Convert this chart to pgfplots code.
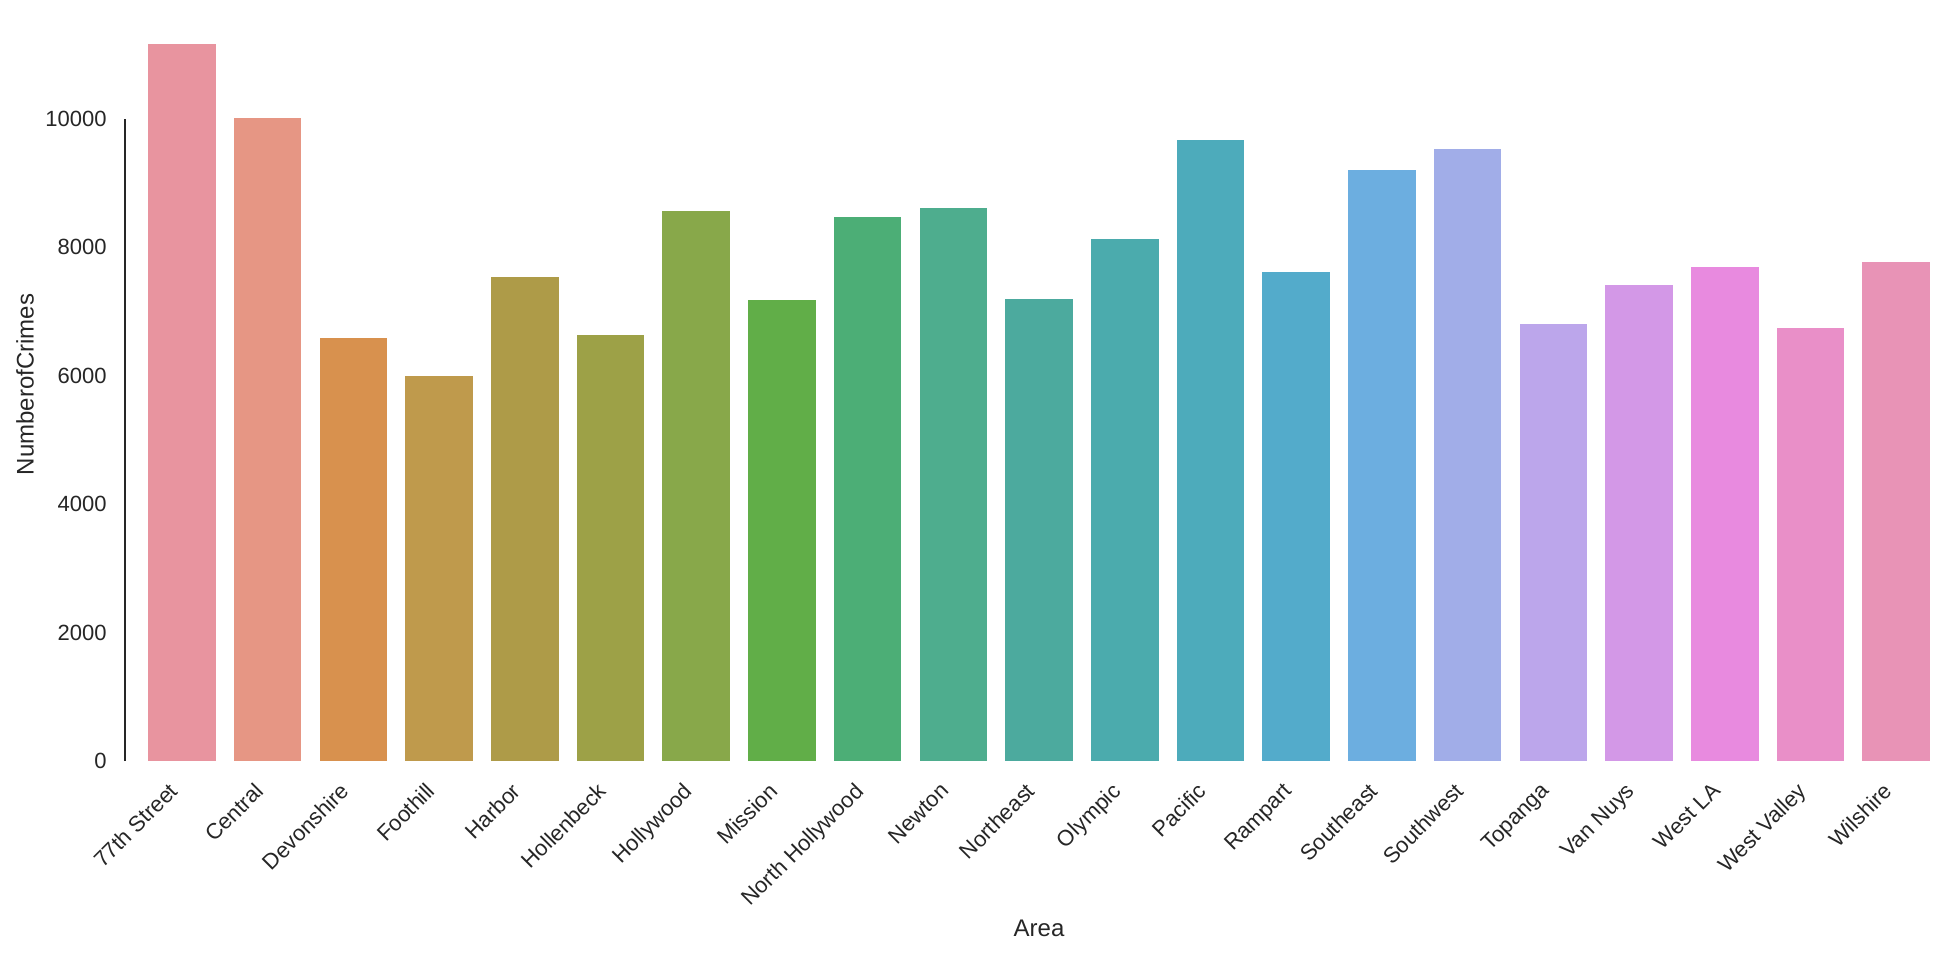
\documentclass[border=0pt]{standalone}
\usepackage{pgfplots}
\pgfplotsset{compat=1.18}
\usepackage{fontspec}
\setmainfont{Liberation Sans}
\definecolor{txt}{HTML}{262626}
\definecolor{c0}{HTML}{E8949F}
\definecolor{c1}{HTML}{E69684}
\definecolor{c2}{HTML}{D8914E}
\definecolor{c3}{HTML}{BF9A4C}
\definecolor{c4}{HTML}{AE9B48}
\definecolor{c5}{HTML}{9DA147}
\definecolor{c6}{HTML}{88A84A}
\definecolor{c7}{HTML}{61AE48}
\definecolor{c8}{HTML}{4CAE76}
\definecolor{c9}{HTML}{4EAD8E}
\definecolor{c10}{HTML}{4CAA9E}
\definecolor{c11}{HTML}{4BABAD}
\definecolor{c12}{HTML}{4DABBB}
\definecolor{c13}{HTML}{53ABCB}
\definecolor{c14}{HTML}{6CAEE0}
\definecolor{c15}{HTML}{A1ADE8}
\definecolor{c16}{HTML}{BCA6EB}
\definecolor{c17}{HTML}{D398E7}
\definecolor{c18}{HTML}{E88ADF}
\definecolor{c19}{HTML}{E98FC8}
\definecolor{c20}{HTML}{E893B6}
\begin{document}
\begin{tikzpicture}
\useasboundingbox (-69.5bp,-96bp) rectangle (910.5bp,380.5bp);
\begin{axis}[
  scale only axis, width=900bp, height=376.5bp,
  xmin=-0.5, xmax=20.5, ymin=0, ymax=11727,
  ybar, bar width=0.8, bar shift=0pt,
  clip=false,
  axis line style={draw=none},
  major tick length=0pt,
  xtick={0,...,20},
  xticklabels={77th Street,Central,Devonshire,Foothill,Harbor,Hollenbeck,Hollywood,Mission,North Hollywood,Newton,Northeast,Olympic,Pacific,Rampart,Southeast,Southwest,Topanga,Van Nuys,West LA,West Valley,Wilshire},
  ytick={0,2000,4000,6000,8000,10000},
  scaled y ticks=false,
  /pgf/number format/assume math mode=true,
  /pgf/number format/1000 sep={},
  ticklabel style={font=\fontsize{11bp}{13bp}\selectfont, text=txt},
  yticklabel style={inner sep=0pt, xshift=-16bp},
  xticklabel style={xshift=-7bp, yshift=-10bp, rotate=45, anchor=north east, inner sep=0pt},
  every axis x label/.style={at={(axis description cs:0.5,-0.2218)}, anchor=center},
  every axis y label/.style={at={(axis description cs:-0.0633,0.5)}, anchor=center, rotate=90},
  label style={font=\fontsize{12bp}{14bp}\selectfont, text=txt},
  xlabel={Area},
  ylabel={NumberofCrimes},
  every axis plot/.append style={draw=white, line width=0.4bp},
]
\addplot[fill=c0, draw=white] coordinates {(0,11168)};
\addplot[fill=c1, draw=white] coordinates {(1,10026)};
\addplot[fill=c2, draw=white] coordinates {(2,6604)};
\addplot[fill=c3, draw=white] coordinates {(3,6012)};
\addplot[fill=c4, draw=white] coordinates {(4,7550)};
\addplot[fill=c5, draw=white] coordinates {(5,6651)};
\addplot[fill=c6, draw=white] coordinates {(6,8578)};
\addplot[fill=c7, draw=white] coordinates {(7,7186)};
\addplot[fill=c8, draw=white] coordinates {(8,8489)};
\addplot[fill=c9, draw=white] coordinates {(9,8619)};
\addplot[fill=c10, draw=white] coordinates {(10,7207)};
\addplot[fill=c11, draw=white] coordinates {(11,8146)};
\addplot[fill=c12, draw=white] coordinates {(12,9688)};
\addplot[fill=c13, draw=white] coordinates {(13,7632)};
\addplot[fill=c14, draw=white] coordinates {(14,9216)};
\addplot[fill=c15, draw=white] coordinates {(15,9538)};
\addplot[fill=c16, draw=white] coordinates {(16,6822)};
\addplot[fill=c17, draw=white] coordinates {(17,7425)};
\addplot[fill=c18, draw=white] coordinates {(18,7700)};
\addplot[fill=c19, draw=white] coordinates {(19,6755)};
\addplot[fill=c20, draw=white] coordinates {(20,7783)};
\draw[txt, line width=1.25bp] ([xshift=-7bp]axis cs:-0.5,0) -- ([xshift=-7bp]axis cs:-0.5,10000);
\end{axis}
\end{tikzpicture}
\end{document}
